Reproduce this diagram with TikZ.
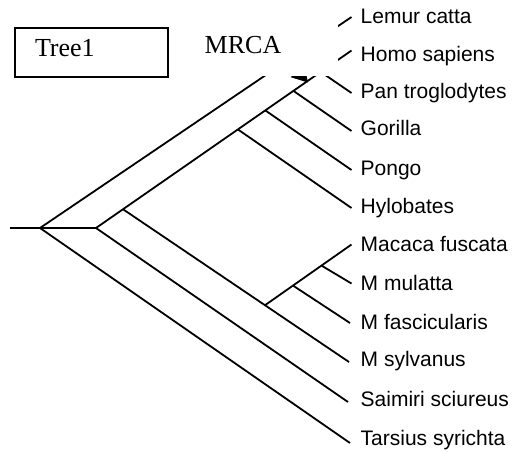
\documentclass[tikz,border=0pt]{standalone}
\usepackage{fontspec}
\setmainfont{Liberation Sans}
\newfontfamily\timesfont{Liberation Serif}
\usetikzlibrary{arrows.meta,calc}
\begin{document}
\begin{tikzpicture}[x=1pt,y=-1pt,
  branch/.style={line width=1.8pt},
  taxon/.style={anchor=base west, inner sep=0pt, font=\fontsize{21}{24}\selectfont},
  titlebox/.style={draw, line width=1.7pt, align=left, font=\timesfont\fontsize{26}{30}\selectfont}]
\useasboundingbox (0,0) rectangle (517,451);
% leaf tips
\coordinate (tLem) at (351.5,17);
\coordinate (tHom) at (351.5,50.5);
\coordinate (tPan) at (351.5,93);
\coordinate (tGor) at (351.5,131);
\coordinate (tPon) at (351.5,170);
\coordinate (tHyl) at (351.5,208);
\coordinate (tMac) at (351.5,244.5);
\coordinate (tMul) at (351.5,283.5);
\coordinate (tFas) at (350,323);
\coordinate (tSyl) at (349,362);
\coordinate (tSai) at (348,402);
\coordinate (tTar) at (350,443);
% internal nodes
\coordinate (r0) at (10,228);
\coordinate (A) at (40,228);
\coordinate (B) at (96,228);
\coordinate (C) at ($(B)!0.1057!(tHom)$);
\coordinate (nHyl) at ($(B)!0.5554!(tHom)$);
\coordinate (nPon) at ($(B)!0.6626!(tHom)$);
\coordinate (nGor) at ($(B)!0.7726!(tHom)$);
\coordinate (nPan) at ($(B)!0.8795!(tHom)$);
\coordinate (D) at ($(C)!0.6283!(tSyl)$);
\coordinate (E) at ($(D)!0.3237!(tMac)$);
\coordinate (F) at ($(D)!0.653!(tMac)$);
% branches
\draw[branch] (r0) -- (A) -- (B);
\draw[branch] (A) -- (tLem);
\draw[branch] (A) -- (tTar);
\draw[branch] (B) -- (tHom);
\draw[branch] (B) -- (tSai);
\draw[branch] (C) -- (tSyl);
\draw[branch] (nHyl) -- (tHyl);
\draw[branch] (nPon) -- (tPon);
\draw[branch] (nGor) -- (tGor);
\draw[branch] (nPan) -- (tPan);
\draw[branch] (D) -- (tMac);
\draw[branch] (E) -- (tFas);
\draw[branch] (F) -- (tMul);
% arrow (mostly hidden by the MRCA box)
\coordinate (arrowfrom) at (270,41);
\coordinate (arrowtip) at (308,82.5);
\draw[line width=1.5pt, -{Triangle[angle=60:18pt]}] (arrowfrom) -- (arrowtip);
% MRCA box (white, no border)
\node[fill=white, align=left, minimum width=153pt, minimum height=64pt,
      text width=113.6pt, inner xsep=19.7pt, text height=18.6pt, text depth=0pt,
      font=\timesfont\fontsize{26}{30}\selectfont] (mrca) at (261.5,44) {MRCA};
% Tree1 box
\node[titlebox, minimum width=153pt, minimum height=49pt, text width=113pt,
      inner xsep=20pt, text height=17.6pt, text depth=10.6pt] (tree1) at (91.5,52.5) {Tree1};
% labels
\node[taxon] (lLem) at (360.5,23.3) {Lemur catta};
\node[taxon] (lHom) at (360.5,61.7) {Homo sapiens};
\node[taxon] (lPan) at (360.5,98.3) {Pan troglodytes};
\node[taxon] (lGor) at (360.5,135.5) {Gorilla};
\node[taxon] (lPon) at (360.5,175) {Pongo};
\node[taxon] (lHyl) at (360.5,213.3) {Hylobates};
\node[taxon] (lMac) at (360.5,251.7) {Macaca fuscata};
\node[taxon] (lMul) at (360.5,290.7) {M mulatta};
\node[taxon] (lFas) at (360.5,329) {M fascicularis};
\node[taxon] (lSyl) at (360.5,366.7) {M sylvanus};
\node[taxon] (lSai) at (360.5,406.7) {Saimiri sciureus};
\node[taxon] (lTar) at (360.5,445) {Tarsius syrichta};
\end{tikzpicture}
\end{document}
